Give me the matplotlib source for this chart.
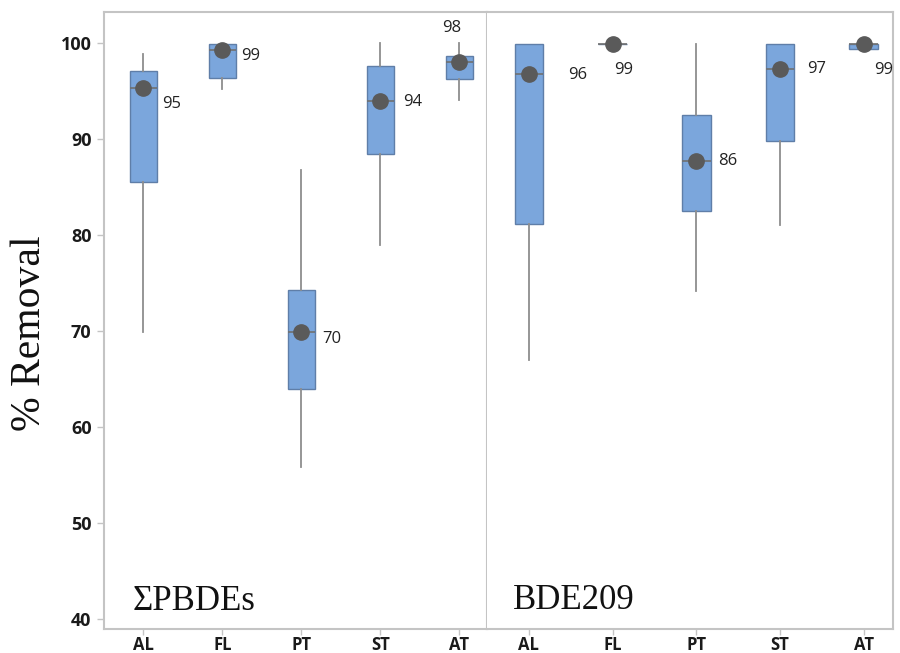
import matplotlib
matplotlib.use("Agg")
import matplotlib.pyplot as plt

# categories and box statistics
sites = ["AL", "FL", "PT", "ST", "AT"]

pbde_low = [69.9, 95.2, 55.8, 79.0, 94.1]
pbde_q1 = [85.5, 96.4, 64.0, 88.4, 96.3]
pbde_med = [95.3, 99.3, 69.9, 94.0, 98.0]
pbde_q3 = [97.05, 99.9, 74.3, 97.6, 98.6]
pbde_high = [98.9, 99.9, 86.8, 100.0, 100.0]
pbde_labels = ["95", "99", "70", "94", "98"]

bde_low = [67.0, 99.9, 74.2, 81.0, 99.4]
bde_q1 = [81.1, 99.9, 82.5, 89.8, 99.4]
bde_med = [96.8, 99.9, 87.7, 97.3, 99.9]
bde_q3 = [99.9, 99.9, 92.5, 99.9, 99.9]
bde_high = [99.9, 99.9, 99.9, 99.9, 99.9]
bde_labels = ["96", "99", "86", "97", "99"]

yticks = [40, 50, 60, 70, 80, 90, 100]

# label offsets in pixels (dx right, dy up) from each dot
pbde_off = [(28, -16), (28, -6), (30, -7), (32, -1), (-8, 34)]
bde_off = [(49, -1), (11, -26), (31, 0), (37, 0), (20, -26)]

box_face = "#7ba6dc"
box_edge = "#5f7ea8"
whisk_col = "#8e8e8e"
dot_col = "#5a5a5a"
spine_col = "#c4c4c4"

fig = plt.figure(figsize=(9, 6.53), dpi=100)
W, H = 900, 653
bottom = 1 - 629.3 / H
height = (629.3 - 11.7) / H
ax1 = fig.add_axes([104 / W, bottom, (487 - 104) / W, height])
ax2 = fig.add_axes([487 / W, bottom, (893 - 487) / W, height])


def draw_panel(ax, low, q1, med, q3, high, labels, offs):
    stats = []
    for i in range(len(sites)):
        stats.append(dict(whislo=low[i], q1=q1[i], med=med[i], q3=q3[i],
                          whishi=high[i], mean=med[i], fliers=[]))
    pos = list(range(1, len(sites) + 1))
    ax.bxp(stats, positions=pos, widths=0.34, patch_artist=True,
           showmeans=True, showcaps=False,
           boxprops=dict(facecolor=box_face, edgecolor=box_edge, linewidth=1.0),
           whiskerprops=dict(color=whisk_col, linewidth=1.3),
           medianprops=dict(color="#707070", linewidth=1.2),
           meanprops=dict(marker="o", markerfacecolor=dot_col,
                          markeredgecolor=dot_col, markersize=11))
    for i in range(len(sites)):
        ax.annotate(labels[i], (pos[i], med[i]), xytext=offs[i],
                    textcoords="offset pixels", ha="center", va="center",
                    fontsize=12, family="Open Sans", color="#222222",
                    annotation_clip=False)
    ax.set_xlim(0.5, 5.35)
    ax.set_ylim(38.93, 103.26)
    ax.set_xticks(pos)
    ax.set_xticklabels(sites, fontsize=12, fontweight="bold",
                       family="Open Sans", color="#1a1a1a")
    for s in ax.spines.values():
        s.set_color(spine_col)
        s.set_linewidth(1.5)
    ax.tick_params(axis="x", color=spine_col, length=4, width=1.0, pad=0.5)
    ax.tick_params(axis="y", color=spine_col, length=5, width=1.0, pad=4)


draw_panel(ax1, pbde_low, pbde_q1, pbde_med, pbde_q3, pbde_high,
           pbde_labels, pbde_off)
draw_panel(ax2, bde_low, bde_q1, bde_med, bde_q3, bde_high,
           bde_labels, bde_off)

ax1.set_yticks(yticks)
ax1.set_yticklabels([str(t) for t in yticks], fontsize=13,
                    fontweight="bold", family="Open Sans", color="#1a1a1a")
ax2.set_yticks([])
ax2.spines["left"].set_visible(False)

ax1.text(0.0757, 0.031, "ΣPBDEs", transform=ax1.transAxes, va="baseline",
         ha="left", fontsize=25, family="Liberation Serif", color="#111111")
ax2.text(0.064, 0.033, "BDE209", transform=ax2.transAxes, va="baseline",
         ha="left", fontsize=25, family="Liberation Serif", color="#111111")

fig.text(30 / W, 1 - 333 / H, "% Removal", rotation=90, ha="center",
         va="center", fontsize=30, family="Liberation Serif", color="#111111")

fig.savefig("out.png", dpi=100)
